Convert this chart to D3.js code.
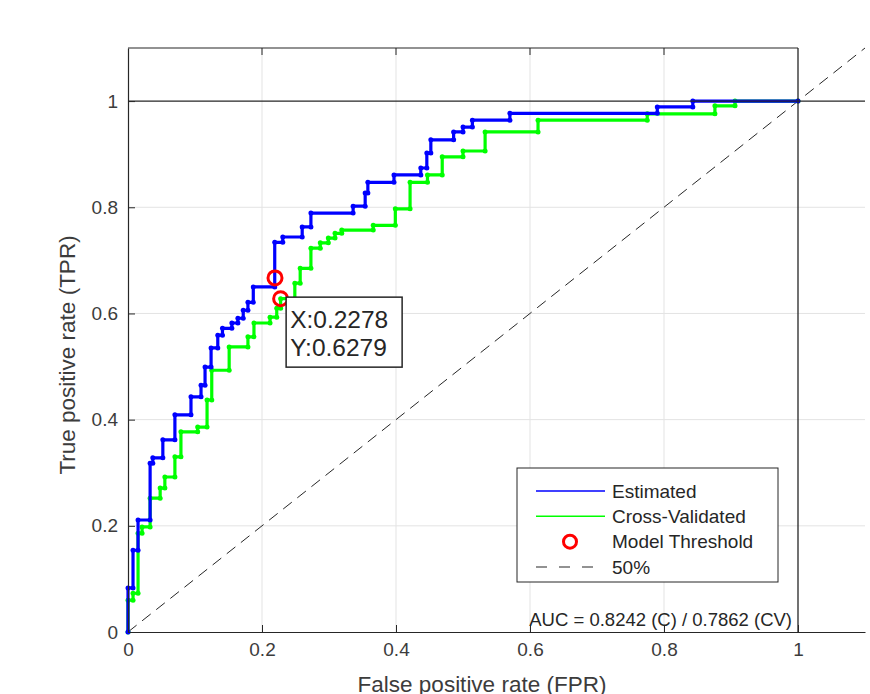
<!DOCTYPE html>
<html>
<head>
<meta charset="utf-8">
<script src="https://cdn.jsdelivr.net/npm/d3@7"></script>
<style>
body{margin:0;background:#fff;}
svg{display:block;font-family:"Liberation Sans",Arial,sans-serif;}
</style>
</head>
<body>
<div id="chart"></div>
<script>
// ROC curve, estimated (blue)
var estFpr = [0,0,0.0075,0.0075,0.015,0.015,0.033,0.033,0.037,0.037,0.052,0.052,0.070,0.070,0.094,0.094,
  0.109,0.109,0.115,0.115,0.124,0.124,0.134,0.134,0.141,0.141,0.155,0.155,0.164,0.164,0.172,0.172,0.179,0.179,
  0.187,0.187,0.219,0.219,0.231,0.231,0.260,0.260,0.273,0.273,0.336,0.336,0.354,0.354,0.358,0.358,0.397,0.397,
  0.437,0.437,0.446,0.446,0.452,0.452,0.486,0.486,0.500,0.500,0.514,0.514,0.570,0.570,0.790,0.790,0.843,0.843,1];
var estTpr = [0,0.083,0.083,0.154,0.154,0.211,0.211,0.318,0.318,0.328,0.328,0.362,0.362,0.409,0.409,0.443,
  0.443,0.465,0.465,0.499,0.499,0.535,0.535,0.559,0.559,0.572,0.572,0.582,0.582,0.591,0.591,0.606,0.606,0.621,
  0.621,0.650,0.650,0.734,0.734,0.744,0.744,0.763,0.763,0.789,0.789,0.802,0.802,0.827,0.827,0.847,0.847,0.861,
  0.861,0.874,0.874,0.902,0.902,0.927,0.927,0.942,0.942,0.951,0.951,0.964,0.964,0.977,0.977,0.989,0.989,1,1];
// ROC curve, cross-validated (green)
var cvFpr = [0,0,0.0075,0.0075,0.015,0.015,0.021,0.021,0.033,0.033,0.048,0.048,0.055,0.055,0.070,0.070,
  0.079,0.079,0.104,0.104,0.118,0.118,0.125,0.125,0.151,0.151,0.179,0.179,0.188,0.188,0.212,0.212,0.222,0.222,
  0.2278,0.2278,0.249,0.249,0.257,0.257,0.273,0.273,0.287,0.287,0.299,0.299,0.309,0.309,0.319,0.319,0.366,0.366,
  0.399,0.399,0.421,0.421,0.447,0.447,0.469,0.469,0.500,0.500,0.533,0.533,0.612,0.612,0.775,0.775,0.876,0.876,
  0.906,0.906,1];
var cvTpr = [0,0.060,0.060,0.073,0.073,0.186,0.186,0.198,0.198,0.252,0.252,0.271,0.271,0.292,0.292,0.330,
  0.330,0.377,0.377,0.386,0.386,0.437,0.437,0.493,0.493,0.537,0.537,0.556,0.556,0.582,0.582,0.593,0.593,0.610,
  0.610,0.6279,0.6279,0.657,0.657,0.685,0.685,0.723,0.723,0.733,0.733,0.742,0.742,0.751,0.751,0.757,0.757,0.766,
  0.766,0.797,0.797,0.847,0.847,0.861,0.861,0.895,0.895,0.906,0.906,0.942,0.942,0.964,0.964,0.976,0.976,0.991,
  0.991,1,1];
// model threshold points
var thrFpr = [0.2194, 0.2278];
var thrTpr = [0.667, 0.6279];
var xTicks = [0,0.2,0.4,0.6,0.8,1];
var yTicks = [0,0.2,0.4,0.6,0.8,1];
var gridTicks = [0.2,0.4,0.6,0.8];
var legendLabels = ["Estimated","Cross-Validated","Model Threshold","50%"];
var aucLabel = "AUC = 0.8242 (C) / 0.7862 (CV)";
var tipLines = ["X:0.2278","Y:0.6279"];

var W = 870, H = 694;
var ink = "#262626", txt = "#3c3c3c";
var svg = d3.select("#chart").append("svg").attr("width", W).attr("height", H);

var x = d3.scaleLinear().domain([0,1.1]).range([128,865]);
var y = d3.scaleLinear().domain([0,1.1]).range([632,48]);

// grid
var g = svg.append("g");
g.selectAll(".gx").data(gridTicks).enter().append("line")
  .attr("x1", d=>x(d)).attr("x2", d=>x(d)).attr("y1", y(0)).attr("y2", y(1.1))
  .style("stroke", "#e3e3e3").style("stroke-width", 1);
g.selectAll(".gy").data(gridTicks).enter().append("line")
  .attr("x1", x(0)).attr("x2", x(1.1)).attr("y1", d=>y(d)).attr("y2", d=>y(d))
  .style("stroke", "#e3e3e3").style("stroke-width", 1);

// 50% diagonal
svg.append("line")
  .attr("x1", x(0)).attr("y1", y(0)).attr("x2", x(1.1)).attr("y2", y(1.1))
  .style("stroke", ink).style("stroke-width", 1).style("stroke-dasharray", "11,7");

// curves
function drawCurve(fx, fy, col){
  var pts = fx.map((d,i)=>[d, fy[i]]);
  var line = d3.line().x(d=>x(d[0])).y(d=>y(d[1]));
  svg.append("path").datum(pts).attr("d", line)
    .style("fill", "none").style("stroke", col).style("stroke-width", 3.2);
  svg.append("g").selectAll("circle").data(pts).enter().append("circle")
    .attr("cx", d=>x(d[0])).attr("cy", d=>y(d[1])).attr("r", 2.5).style("fill", col);
}
drawCurve(cvFpr, cvTpr, "#00ff00");
drawCurve(estFpr, estTpr, "#0000ff");

// reference lines at 1
svg.append("line").attr("x1", x(1)).attr("x2", x(1)).attr("y1", y(0)).attr("y2", y(1.1))
  .style("stroke", ink).style("stroke-width", 1.3);
svg.append("line").attr("x1", x(0)).attr("x2", x(1.1)).attr("y1", y(1)).attr("y2", y(1))
  .style("stroke", ink).style("stroke-width", 1.3);

// axes
var fmt = d3.format("~g");
var xAxis = svg.append("g").attr("transform", "translate(0," + y(0) + ")")
  .call(d3.axisBottom(x).tickValues(xTicks).tickFormat(fmt).tickSizeInner(-7).tickSizeOuter(0).tickPadding(11));
var yAxis = svg.append("g").attr("transform", "translate(" + x(0) + ",0)")
  .call(d3.axisLeft(y).tickValues(yTicks).tickFormat(fmt).tickSizeInner(-7).tickSizeOuter(0).tickPadding(10));
[xAxis, yAxis].forEach(function(a){
  a.select(".domain").style("stroke", ink).style("stroke-width", 1.2);
  a.selectAll(".tick line").style("stroke", ink);
  a.selectAll(".tick text").style("fill", txt).style("font-size", "19px").style("font-family", "Liberation Sans, Arial, sans-serif");
});
// top border with ticks
svg.append("line").attr("x1", x(0)).attr("x2", x(1)).attr("y1", y(1.1)).attr("y2", y(1.1))
  .style("stroke", ink).style("stroke-width", 1.2);
svg.selectAll(".tt").data(gridTicks).enter().append("line")
  .attr("x1", d=>x(d)).attr("x2", d=>x(d)).attr("y1", y(1.1)).attr("y2", y(1.1)+7)
  .style("stroke", ink);

// axis labels
svg.append("text").attr("x", 482).attr("y", 692).attr("text-anchor", "middle")
  .style("font-size", "22.5px").style("fill", txt).text("False positive rate (FPR)");
svg.append("text").attr("transform", "translate(75,355) rotate(-90)").attr("text-anchor", "middle")
  .style("font-size", "22.5px").style("fill", txt).text("True positive rate (TPR)");

// threshold markers
svg.append("g").selectAll("circle").data(thrFpr).enter().append("circle")
  .attr("cx", d=>x(d)).attr("cy", (d,i)=>y(thrTpr[i])).attr("r", 7)
  .style("fill", "none").style("stroke", "#ff0000").style("stroke-width", 3);

// data tip
var tx = x(thrFpr[1]) + 5.5, ty = y(thrTpr[1]) - 1.5;
svg.append("rect").attr("x", tx).attr("y", ty).attr("width", 116).attr("height", 70)
  .style("fill", "#fff").style("stroke", ink).style("stroke-width", 1.5);
svg.selectAll(".tip").data(tipLines).enter().append("text")
  .attr("x", tx + 4).attr("y", (d,i)=>ty + 31 + i*27.5)
  .style("font-size", "24.5px").style("fill", ink).text(d=>d);

// legend
var lg = svg.append("g");
lg.append("rect").attr("x", 517).attr("y", 468).attr("width", 261).attr("height", 114)
  .style("fill", "#fff").style("stroke", ink).style("stroke-width", 1);
var ly = d3.scalePoint().domain(legendLabels).range([491, 567]);
lg.append("line").attr("x1", 536).attr("x2", 605).attr("y1", ly(legendLabels[0])).attr("y2", ly(legendLabels[0]))
  .style("stroke", "#0000ff").style("stroke-width", 1.5);
lg.append("line").attr("x1", 536).attr("x2", 605).attr("y1", ly(legendLabels[1])).attr("y2", ly(legendLabels[1]))
  .style("stroke", "#00ff00").style("stroke-width", 1.5);
lg.append("circle").attr("cx", 570).attr("cy", ly(legendLabels[2])).attr("r", 6.5)
  .style("fill", "none").style("stroke", "#ff0000").style("stroke-width", 3);
lg.append("line").attr("x1", 536).attr("x2", 605).attr("y1", ly(legendLabels[3])).attr("y2", ly(legendLabels[3]))
  .style("stroke", ink).style("stroke-width", 1.2).style("stroke-dasharray", "11,12");
lg.selectAll("text").data(legendLabels).enter().append("text")
  .attr("x", 612).attr("y", d=>ly(d)).attr("dy", "0.35em")
  .style("font-size", "19px").style("fill", ink).text(d=>d);

// AUC annotation
svg.append("text").attr("x", 792).attr("y", 626).attr("text-anchor", "end")
  .style("font-size", "18.5px").style("fill", ink).text(aucLabel);
</script>
</body>
</html>
